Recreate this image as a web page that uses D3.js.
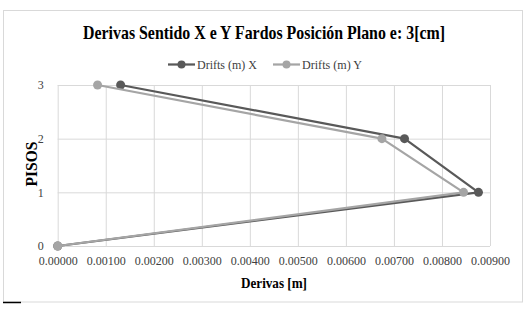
<!DOCTYPE html>
<html>
<head>
<meta charset="utf-8">
<script src="https://cdn.jsdelivr.net/npm/d3@7"></script>
<style>
  body { margin: 0; background: #fff; }
  .grid line { stroke: #d9d9d9; stroke-width: 1; }
  .grid path { display: none; }
  .axis path, .axis line { display: none; }
</style>
</head>
<body>
<svg width="528" height="310"></svg>
<script>
"use strict";

const pisos = [0, 1, 2, 3];
const driftsX = [0.00000, 0.00876, 0.00722, 0.00131];
const driftsY = [0.00000, 0.00845, 0.00675, 0.00083];
const xTicks = [0, 0.001, 0.002, 0.003, 0.004, 0.005, 0.006, 0.007, 0.008, 0.009];
const yTicks = [0, 1, 2, 3];

const series = [
    { name: 'Drifts (m) X', values: driftsX, color: '#595959' },
    { name: 'Drifts (m) Y', values: driftsY, color: '#a5a5a5' }
];

const FONT = "'Liberation Serif', 'Times New Roman', serif";

const svg = d3.select('svg');

// chart frame
svg.append('rect')
    .attr('x', 3.5).attr('y', 10.5)
    .attr('width', 519).attr('height', 291.5)
    .attr('fill', '#fff')
    .attr('stroke', '#d9d9d9');

svg.append('line')
    .attr('x1', 3).attr('x2', 21)
    .attr('y1', 302.5).attr('y2', 302.5)
    .attr('stroke', '#000').attr('stroke-width', 1.5);

const plotLeft = 57.7, plotRight = 490, plotTop = 85, plotBottom = 246;

const xScale = d3.scaleLinear().domain([0, 0.009]).range([plotLeft, plotRight]);
const yScale = d3.scaleLinear().domain([0, 3]).range([plotBottom, plotTop]);

svg.append('g')
    .attr('class', 'grid')
    .attr('transform', `translate(0, ${plotBottom})`)
    .call(d3.axisBottom(xScale).tickValues(xTicks).tickSize(-(plotBottom - plotTop)).tickFormat(''));

svg.append('g')
    .attr('class', 'grid')
    .attr('transform', `translate(${plotLeft}, 0)`)
    .call(d3.axisLeft(yScale).tickValues(yTicks).tickSize(-(plotRight - plotLeft)).tickFormat(''));

const xAxis = svg.append('g')
    .attr('class', 'axis')
    .attr('transform', `translate(0, ${plotBottom + 7})`)
    .call(d3.axisBottom(xScale).tickValues(xTicks).tickSize(0).tickFormat(d3.format('.5f')));

const yAxis = svg.append('g')
    .attr('class', 'axis')
    .attr('transform', `translate(${plotLeft - 11}, 0)`)
    .call(d3.axisLeft(yScale).tickValues(yTicks).tickSize(0).tickFormat(d3.format('d')));

[xAxis, yAxis].forEach(function (a) {
    a.attr('font-family', FONT).attr('font-size', 12);
    a.selectAll('text').attr('fill', '#404040');
});

const line = d3.line()
    .x((d) => xScale(d[0]))
    .y((d) => yScale(d[1]));

series.forEach(function (s) {
    const pts = s.values.map((v, i) => [v, pisos[i]]);
    svg.append('path')
        .datum(pts)
        .attr('d', line)
        .attr('fill', 'none')
        .attr('stroke', s.color)
        .attr('stroke-width', 2.25)
        .attr('stroke-linejoin', 'round');
    svg.selectAll(null)
        .data(pts)
        .enter()
        .append('circle')
        .attr('cx', (d) => xScale(d[0]))
        .attr('cy', (d) => yScale(d[1]))
        .attr('r', 4.5)
        .attr('fill', s.color);
});

// legend
const legendPos = [168, 273];
series.forEach(function (s, i) {
    const g = svg.append('g').attr('transform', `translate(${legendPos[i]}, 64.5)`);
    g.append('line')
        .attr('x1', 0).attr('x2', 27)
        .attr('stroke', s.color).attr('stroke-width', 2.25);
    g.append('circle').attr('cx', 13.5).attr('r', 4).attr('fill', s.color);
    g.append('text')
        .attr('x', 29).attr('y', 4)
        .attr('font-family', FONT)
        .attr('font-size', 12.5)
        .attr('textLength', 60)
        .attr('lengthAdjust', 'spacingAndGlyphs')
        .attr('fill', '#404040')
        .text(s.name);
});

svg.append('text')
    .attr('x', 264)
    .attr('y', 39)
    .attr('text-anchor', 'middle')
    .attr('font-family', FONT)
    .attr('font-size', 19.5)
    .attr('font-weight', 'bold')
    .attr('textLength', 362)
    .attr('lengthAdjust', 'spacingAndGlyphs')
    .attr('fill', '#000')
    .text('Derivas Sentido X e Y Fardos Posición Plano e: 3[cm]');

svg.append('text')
    .attr('x', 274)
    .attr('y', 288)
    .attr('text-anchor', 'middle')
    .attr('font-family', FONT)
    .attr('font-size', 14.5)
    .attr('font-weight', 'bold')
    .attr('textLength', 66)
    .attr('lengthAdjust', 'spacingAndGlyphs')
    .text('Derivas [m]');

svg.append('text')
    .attr('transform', 'rotate(-90)')
    .attr('x', -164)
    .attr('y', 37)
    .attr('text-anchor', 'middle')
    .attr('font-family', FONT)
    .attr('font-size', 16)
    .attr('font-weight', 'bold')
    .attr('textLength', 45)
    .attr('lengthAdjust', 'spacingAndGlyphs')
    .text('PISOS');
</script>
</body>
</html>
